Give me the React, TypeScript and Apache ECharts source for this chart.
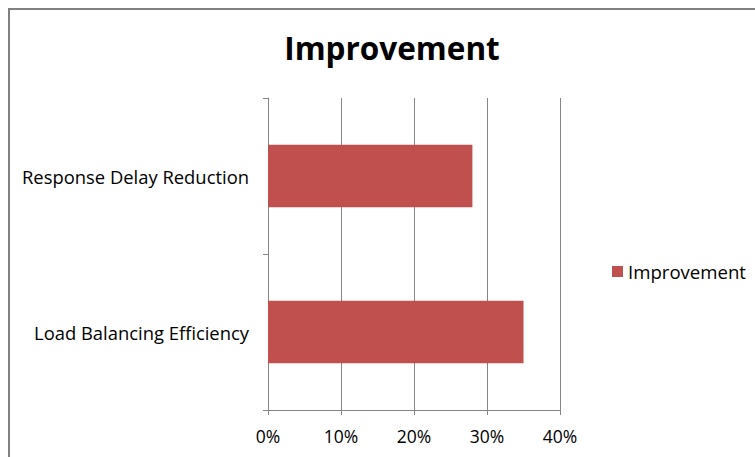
import React, { useEffect, useRef } from "react";
import * as echarts from "echarts";

const categories = ["Load Balancing Efficiency", "Response Delay Reduction"];
const seriesName = "Improvement";
const values = [35, 28];
const tickValues = [0, 10, 20, 30, 40];

export default function App() {
  const ref = useRef<HTMLDivElement>(null);
  useEffect(() => {
    document.body.style.margin = "0";
    const chart = echarts.init(ref.current!, undefined, { renderer: "svg" });
    const font = "Open Sans";
    const gray = "#868686";
    chart.setOption({
      animation: false,
      backgroundColor: "#ffffff",
      title: {
        text: "Improvement",
        left: 387,
        textAlign: "center",
        top: 26,
        textStyle: { fontFamily: font, fontSize: 31.5, fontWeight: "bold", color: "#000" },
      },
      legend: {
        data: [seriesName],
        left: 607,
        top: 257,
        icon: "rect",
        itemWidth: 11,
        itemHeight: 11,
        itemGap: 5,
        textStyle: { fontFamily: font, fontSize: 18.6, color: "#000" },
      },
      grid: { left: 268, top: 98, right: 195, bottom: 47 },
      xAxis: {
        type: "value",
        min: tickValues[0],
        max: tickValues[tickValues.length - 1],
        interval: 10,
        axisLine: { show: true, lineStyle: { color: gray } },
        axisTick: { show: true, length: 5, lineStyle: { color: gray } },
        splitLine: { show: true, lineStyle: { color: gray } },
        axisLabel: { formatter: "{value}%", margin: 17, fontFamily: font, fontSize: 17.5, color: "#000" },
      },
      yAxis: {
        type: "category",
        data: categories,
        axisLine: { show: true, lineStyle: { color: gray } },
        axisTick: { show: true, length: 5, lineStyle: { color: gray } },
        axisLabel: { margin: 19, fontFamily: font, fontSize: 18.4, color: "#000" },
      },
      series: [
        {
          name: seriesName,
          type: "bar",
          data: values,
          barCategoryGap: "60%",
          itemStyle: { color: "#C0504D" },
        },
      ],
      graphic: [
        {
          type: "rect",
          shape: { x: 9, y: 9, width: 800, height: 500 },
          style: { fill: "none", stroke: "#808080", lineWidth: 2 },
          silent: true,
        },
      ],
    });
    return () => chart.dispose();
  }, []);
  return <div ref={ref} style={{ width: 755, height: 457 }} />;
}
